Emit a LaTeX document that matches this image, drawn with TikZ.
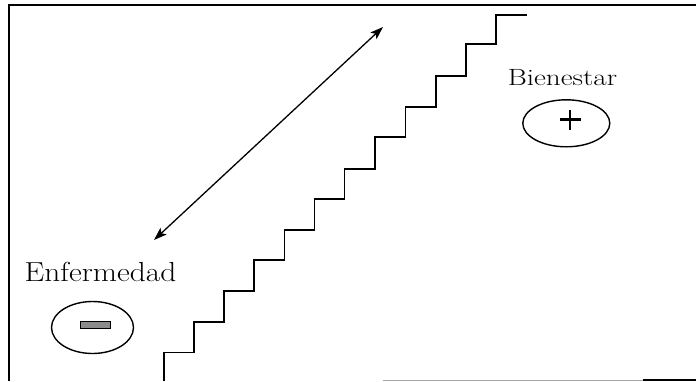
\documentclass[tikz,border=0pt]{standalone}
\usepackage{fontspec}
\setmainfont{Latin Modern Roman}
\usetikzlibrary{shapes.geometric,arrows.meta}
\tikzset{
  stairline/.style={line width=1.8pt, line join=miter},
  frameline/.style={line width=1.6pt},
  ovalbox/.style={ellipse, draw, line width=1.4pt, inner sep=0pt},
  labeltext/.style={anchor=base, inner sep=0pt},
  arrowline/.style={line width=1.3pt, {Stealth[length=13pt,width=9pt,inset=3pt]}-{Stealth[length=13pt,width=9pt,inset=3pt]}},
}
\begin{document}
\begin{tikzpicture}[x=1pt,y=-1pt]
\useasboundingbox (0,0) rectangle (696,381);
% frame
\draw[frameline] (9,381) -- (9,5) -- (696,5);
\draw[line width=1pt, black!35] (383,380) -- (643,380);
\draw[line width=1.6pt] (643,380) -- (696,380);
% stairs
\draw[stairline] (164,381) |- (194,352.5) |- (224,321.7) |- (254,291) |- (284.5,260)
  |- (314.5,230) |- (344.5,199) |- (375,169) |- (405.5,137) |- (436,106.7)
  |- (466,76) |- (496,44) |- (526.5,15);
% arrow
\coordinate (lowend) at (154,240);
\coordinate (highend) at (383,27);
\draw[arrowline] (lowend) -- (highend);
% labels
\node[labeltext] (bien) at (562.5,85) {\scalebox{1.24}[1]{\fontsize{23.5}{28}\selectfont Bienestar}};
\node[labeltext] (enf) at (100.5,281.7) {\scalebox{1.14}[1]{\fontsize{27.5}{32}\selectfont Enfermedad}};
% ovals
\node[ovalbox, minimum width=87pt, minimum height=47pt] (plusoval) at (566.3,123.3) {};
\node[ovalbox, minimum width=82pt, minimum height=52pt] (minusoval) at (92.5,327.5) {};
% minus sign
\node[draw=black, fill=black!45, line width=1pt, minimum width=30pt, minimum height=7pt, inner sep=0pt] (minussign) at (95,325) {};
% plus sign
\coordinate (plusc) at (570,119.5);
\draw[line width=2.6pt] ([yshift=-10pt]plusc) -- ([yshift=10pt]plusc);
\draw[line width=2.6pt] ([xshift=-10.5pt]plusc) -- ([xshift=10.5pt]plusc);
\end{tikzpicture}
\end{document}
